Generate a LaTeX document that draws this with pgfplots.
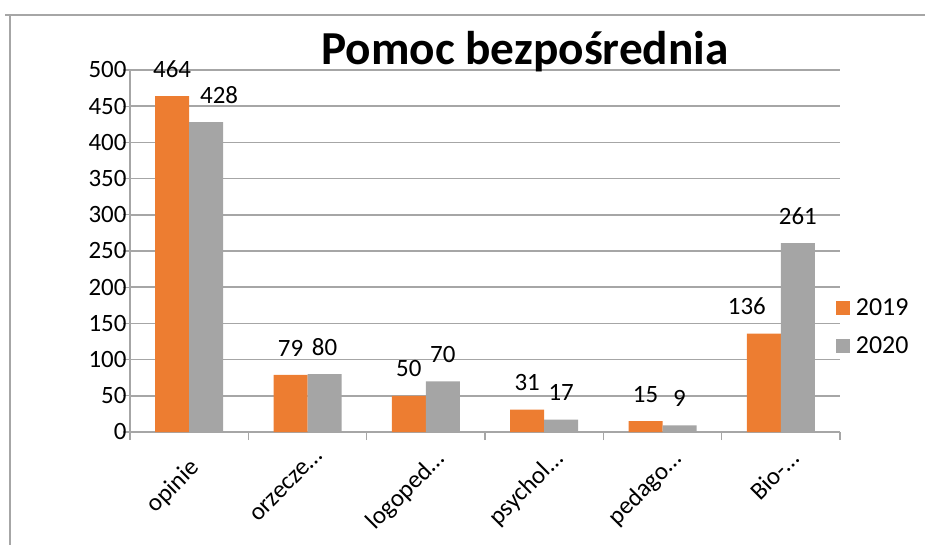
\documentclass[border=0pt]{standalone}
\usepackage{pgfplots}
\pgfplotsset{compat=1.18}
\usepackage{fontspec}
\setmainfont{Carlito}
\definecolor{c2019}{HTML}{ED7D31}
\definecolor{c2020}{HTML}{A5A5A5}
\definecolor{gridc}{HTML}{A6A6A6}

% x: category index, y: value, dx: horizontal nudge of the value label (bp)
\pgfplotstableread{
x y dx
0 464 0
1 79 0
2 50 0
3 31 0
4 15 0
5 136 -17
}\dataA
\pgfplotstableread{
x y dx
0 428 13
1 80 0
2 70 0
3 17 0
4 9 0
5 261 0
}\dataB

\begin{document}
\begin{tikzpicture}
\useasboundingbox (0bp,0bp) rectangle (925bp,545bp);
% chart frame
\draw[gridc, line width=2bp] (5bp,530bp) -- (925bp,530bp);
\draw[gridc, line width=2bp] (10bp,530bp) -- (10bp,0bp);
\begin{axis}[
    at={(130bp,113bp)}, anchor=south west,
    scale only axis, width=710bp, height=362bp,
    ybar=0pt, bar width=34bp,
    xmin=-0.5, xmax=5.5, ymin=0, ymax=500,
    xtick={0,...,5},
    xticklabels={opinie\hspace*{12bp}, orzecze…, logoped…, psychol…, pedago…, Bio-…},
    minor xtick={-0.5,0.5,...,5.5},
    ytick={0,50,...,500},
    axis lines=left, axis line style={-, gridc, line width=1.2bp},
    ymajorgrids, grid style={gridc, line width=1.5bp},
    tick align=outside,
    major tick length=7bp, minor tick length=8bp,
    every major x tick/.style={draw=none},
    every minor x tick/.style={gridc, line width=1.2bp},
    every major y tick/.style={gridc, line width=1.2bp},
    /pgf/number format/assume math mode=true,
    tick label style={font=\fontsize{25}{29}\selectfont, text=black},
    xticklabel style={rotate=45, anchor=north east, inner sep=1bp, yshift=-11bp},
    yticklabel style={xshift=7bp},
    nodes near coords,
    visualization depends on={\thisrow{dx} \as \labeldx},
    every node near coord/.append style={font=\fontsize{25}{29}\selectfont, text=black,
        anchor=south, inner sep=0pt, yshift=18.5bp, xshift=\labeldx bp},
    legend style={at={(0.994,0.29)}, anchor=west, draw=none, fill=none,
        font=\fontsize{26}{30}\selectfont, row sep=20bp, inner sep=0pt,
        nodes={inner xsep=6bp, inner ysep=0pt}},
    legend cell align=left,
]
\addplot[fill=c2019, draw=none,
    legend image code/.code={\fill[c2019] (0bp,-7bp) rectangle (14bp,7bp);}]
    table[x=x, y=y] {\dataA};
\addlegendentry{2019}
\addplot[fill=c2020, draw=none,
    legend image code/.code={\fill[c2020] (0bp,-7bp) rectangle (14bp,7bp);}]
    table[x=x, y=y] {\dataB};
\addlegendentry{2020}
\end{axis}
\node[font=\bfseries\fontsize{47.5}{54}\selectfont, anchor=base] at (525bp,480bp) {Pomoc bezpośrednia};
\end{tikzpicture}
\end{document}
